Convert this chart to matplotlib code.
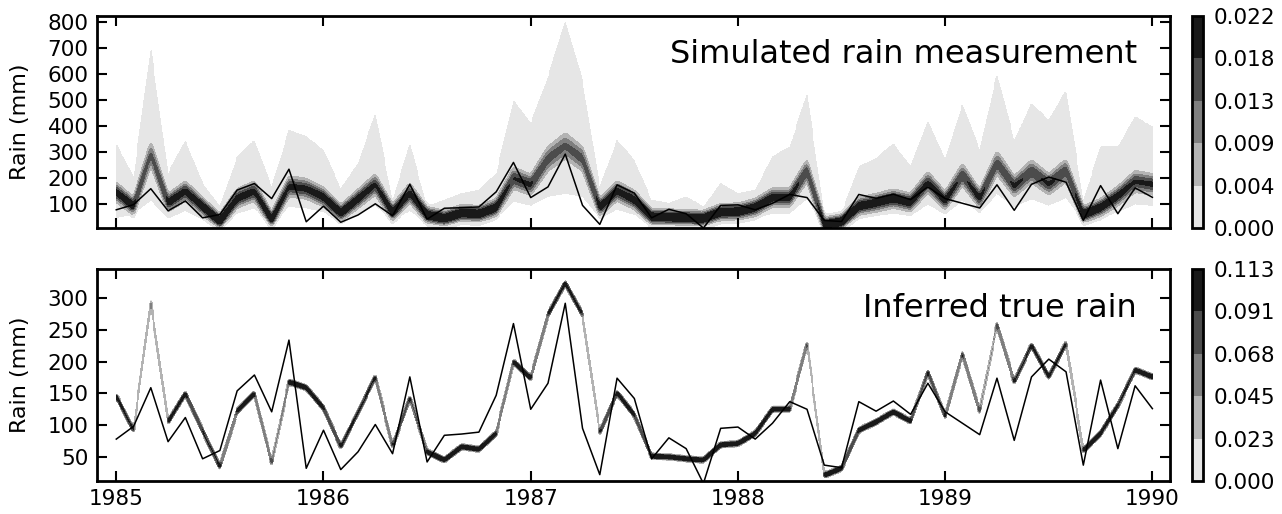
import numpy as np
import matplotlib
matplotlib.use("Agg")
import matplotlib.pyplot as plt

# Monthly time axis, Jan 1985 .. Jan 1990
months = 1985 + np.arange(61) / 12.0

# Measured monthly rain (mm)
observed = [78, 98, 159, 74, 112, 47, 60, 154, 179, 121,
            234, 32, 92, 30, 58, 101, 55, 176, 42, 84,
            86, 89, 147, 260, 125, 166, 292, 95, 22, 174,
            142, 47, 80, 63, 8, 95, 97, 78, 103, 137,
            125, 37, 33, 137, 122, 138, 117, 166, 121, 103,
            85, 174, 76, 176, 204, 184, 37, 171, 63, 162, 126]

# Posterior centre of the inferred true rain (mm)
inferred = [146, 92, 294, 105, 150, 91, 34, 122, 150, 40,
            168, 159, 127, 66, 120, 176, 67, 143, 58, 45,
            66, 62, 87, 200, 174, 274, 324, 274, 88, 151,
            116, 51, 50, 47, 45, 69, 71, 87, 125, 125,
            229, 21, 32, 92, 105, 121, 106, 184, 113, 213,
            121, 259, 168, 226, 176, 229, 60, 87, 131, 187, 176]

# Extent of the simulated measurements (mm)
sim_upper = [333, 205, 705, 219, 346, 180, 90, 282, 346, 167,
             385, 359, 308, 160, 256, 449, 115, 333, 90, 115,
             141, 154, 218, 500, 411, 590, 808, 577, 167, 346,
             269, 115, 103, 128, 90, 179, 141, 154, 282, 320,
             526, 64, 64, 244, 276, 333, 244, 423, 269, 487,
             308, 603, 346, 487, 423, 538, 115, 320, 320, 436, 397]
sim_lower = [48, 62, 115, 45, 75, 40, 18, 65, 85, 25,
             90, 85, 70, 35, 60, 95, 35, 75, 25, 25,
             35, 35, 45, 110, 95, 130, 140, 130, 45, 80,
             60, 25, 25, 25, 25, 35, 40, 45, 65, 65,
             120, 12, 15, 50, 55, 65, 55, 100, 60, 115,
             65, 140, 90, 120, 95, 125, 30, 45, 70, 100, 95]

top_levels = np.linspace(0, 0.0221, 6)
bot_levels = np.linspace(0, 0.1133, 6)

W_PX, H_PX = 1282, 514
fig = plt.figure(figsize=(W_PX / 100, H_PX / 100), dpi=100)


def frac(left, top, right, bottom):
    return [left / W_PX, 1 - bottom / H_PX, (right - left) / W_PX, (bottom - top) / H_PX]


ax_top = fig.add_axes(frac(97, 16, 1170, 228))
ax_bot = fig.add_axes(frac(97, 269, 1170, 481))
cax_top = fig.add_axes(frac(1192, 16, 1203, 228))
cax_bot = fig.add_axes(frac(1192, 269, 1203, 481))

xs = np.linspace(1985, 1990, 1100)
tt = np.linspace(1985, 1990, 3000)


def band_density(centers, sigmas, ys, h):
    """Density of paths through the monthly centres, smoothed with a time kernel."""
    c = np.interp(tt, months, centers)
    s = np.interp(tt, months, sigmas)
    prof = np.exp(-0.5 * ((ys[None, :] - c[:, None]) / s[:, None]) ** 2) / (np.sqrt(2 * np.pi) * s[:, None])
    w = np.exp(-0.5 * ((xs[:, None] - tt[None, :]) / h) ** 2)
    w /= w.sum(axis=1, keepdims=True)
    return (w @ prof).T


inf_arr = np.asarray(inferred, float)

# --- simulated measurements
ys_top = np.linspace(0, 830, 700)
sig_top = 13 + 0.055 * inf_arr
dens_top = band_density(inf_arr, sig_top, ys_top, 0.006)
lo = np.interp(xs, months, sim_lower)
hi = np.interp(xs, months, sim_upper)
tail = ((ys_top[:, None] >= lo[None, :]) & (ys_top[:, None] <= hi[None, :])) * 0.0012
dens_top = np.minimum(dens_top + tail, top_levels[-1])
dens_top = np.ma.masked_less(dens_top, 0.0006)

cs_top = ax_top.contourf(xs, ys_top, dens_top, levels=top_levels, cmap="gray_r")
ax_top.plot(months, observed, color="black", lw=1.1)

# --- inferred true rain
ys_bot = np.linspace(0, 350, 1400)
sig_bot = np.full(61, 2.6)
dens_bot = band_density(inf_arr, sig_bot, ys_bot, 0.005)
dens_bot = np.minimum(dens_bot, bot_levels[-1])
dens_bot = np.ma.masked_less(dens_bot, 0.018)

cs_bot = ax_bot.contourf(xs, ys_bot, dens_bot, levels=bot_levels, cmap="gray_r")
ax_bot.plot(months, observed, color="black", lw=1.1)

for ax in (ax_top, ax_bot):
    ax.set_xlim(1984.907, 1990.085)
    ax.set_xticks([1985, 1986, 1987, 1988, 1989, 1990])
    ax.tick_params(direction="in", length=7, width=1.5, top=True, right=True,
                   labelsize=15.5, pad=6)
    for sp in ax.spines.values():
        sp.set_linewidth(2)
    ax.set_ylabel("Rain (mm)", fontsize=16)
    ax.yaxis.set_label_coords(-0.062, 0.5)

ax_top.set_ylim(8, 823)
ax_top.set_yticks(np.arange(100, 801, 100))
ax_top.set_xticklabels([])
ax_bot.set_ylim(12, 346)
ax_bot.set_yticks(np.arange(50, 301, 50))
ax_bot.set_xticklabels(["1985", "1986", "1987", "1988", "1989", "1990"])

ax_top.text(0.969, 0.778, "Simulated rain measurement", transform=ax_top.transAxes,
            ha="right", va="baseline", fontsize=23)
ax_bot.text(0.969, 0.775, "Inferred true rain", transform=ax_bot.transAxes,
            ha="right", va="baseline", fontsize=23)

for cs, cax, lv in ((cs_top, cax_top, top_levels), (cs_bot, cax_bot, bot_levels)):
    cb = fig.colorbar(cs, cax=cax, ticks=lv, format="%.3f")
    cb.outline.set_linewidth(2)
    cax.tick_params(length=0, labelsize=15.5, pad=8)

fig.savefig("out.png", dpi=100)
